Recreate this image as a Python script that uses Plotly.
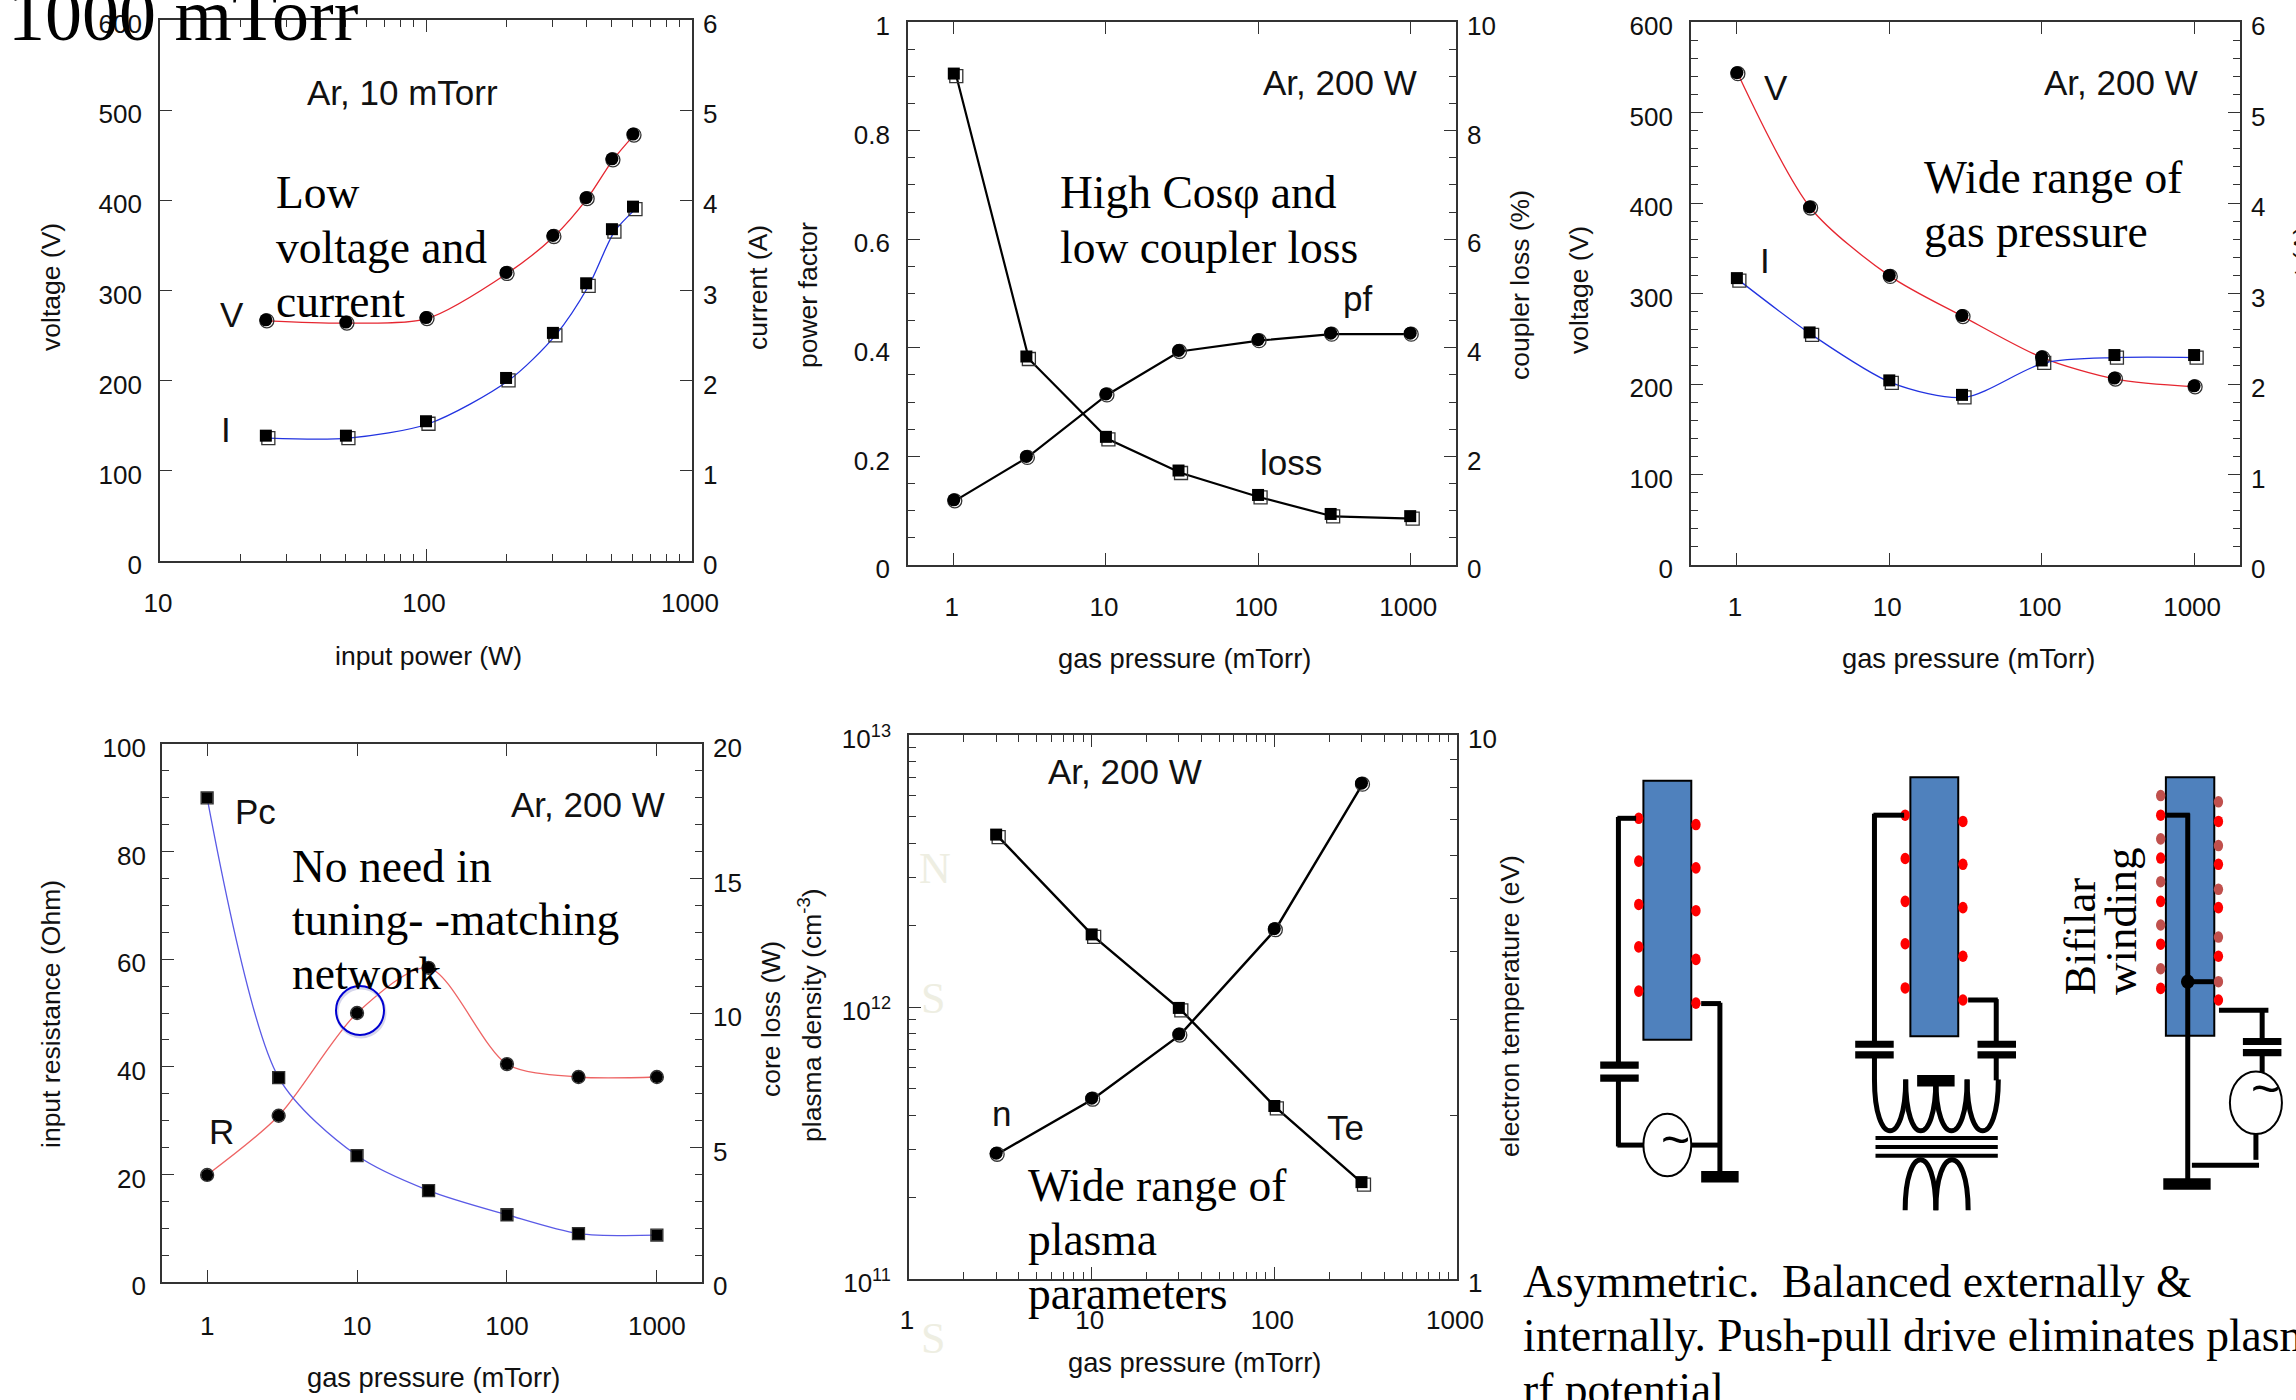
import plotly.graph_objects as go
import math

W, H = 2296, 1400

# ---------- data ----------
power_w = [25, 50, 100, 200, 300, 400, 500, 600]
p1_voltage = [267.5, 265, 270, 320, 361, 403, 446, 473.5]
p1_current = [1.39, 1.39, 1.55, 2.03, 2.53, 3.08, 3.68, 3.93]

pressure = [1, 3, 10, 30, 100, 300, 1000]
p2_pf = [0.12, 0.20, 0.315, 0.395, 0.415, 0.427, 0.427]
p2_loss = [9.05, 3.84, 2.36, 1.74, 1.29, 0.94, 0.90]

p3_voltage = [544, 395.6, 320, 275.6, 230, 206.6, 198]
p3_current = [3.17, 2.57, 2.04, 1.88, 2.26, 2.32, 2.32]

p4_r = [19.9, 30.9, 50, 58.4, 40.5, 38.1, 38.1]
p4_pc = [18.0, 7.6, 4.7, 3.4, 2.5, 1.8, 1.74]

pressure5 = [3, 10, 30, 100, 300]
p5_n = [2.9e11, 4.62e11, 7.95e11, 1.94e12, 6.65e12]
p5_te = [6.56, 4.3, 3.15, 2.08, 1.507]

SANS = "Liberation Sans"
SERIF = "Liberation Serif"
TICK = 26
AXT = 26.5
GAS = 27.3
LAB = 35
BIG = 45.5


def X(px):
    return px / W


def Y(py):
    return 1 - py / H


fig = go.Figure()
annotations = []
shapes = []


def text(x, y, s, size=AXT, font=SANS, anchor="center", angle=0, color="#111111", baseline=False):
    yy = y - 0.3 * size if baseline else y
    annotations.append(dict(x=X(x), y=Y(yy), xref="paper", yref="paper", text=s, showarrow=False,
                            xanchor=anchor, yanchor="middle", textangle=angle,
                            font=dict(family=font, size=size, color=color)))


def serif(x, y, s, size=BIG):
    text(x, y, s, size=size, font=SERIF, anchor="left", baseline=True, color="#000000")


panels = {
    1: dict(box=(160, 692, 20, 561), xr=(1, 3)),
    2: dict(box=(908, 1456, 22, 565), xr=(math.log10(0.5), math.log10(2000))),
    3: dict(box=(1691, 2240, 22, 565), xr=(math.log10(0.5), math.log10(2000))),
    4: dict(box=(162, 702, 744, 1282), xr=(math.log10(0.5), math.log10(2000))),
    5: dict(box=(909, 1457, 735, 1279), xr=(0, 3)),
}


def xshift(panel, xs, px):
    b = panels[panel]["box"]
    r = panels[panel]["xr"]
    k = (r[1] - r[0]) / (b[1] - b[0])
    return [v * 10 ** (px * k) for v in xs]


def yshift(panel, ys, px, yr, log=False):
    b = panels[panel]["box"]
    k = (yr[1] - yr[0]) / (b[3] - b[2])
    if log:
        return [v * 10 ** (-px * k) for v in ys]
    return [v - px * k for v in ys]


def series(panel, xs, ys, right, yr, color, lw, symbol, log=False, off=(2.5, 2.5), ms=12, smooth=True):
    ya = f"y{panel + 5}" if right else f"y{panel}"
    xa = f"x{panel}"
    lx = xshift(panel, xs, off[0])
    ly = yshift(panel, ys, off[1], yr, log)
    fig.add_trace(go.Scatter(x=lx, y=ly, xaxis=xa, yaxis=ya, mode="lines",
                             line=dict(color=color, width=lw, shape="spline" if smooth else "linear", smoothing=0.8),
                             showlegend=False, hoverinfo="skip"))
    fig.add_trace(go.Scatter(x=lx, y=ly, xaxis=xa, yaxis=ya, mode="markers",
                             marker=dict(symbol=symbol + "-open", size=ms + 1, color="#333333", line=dict(width=1.3, color="#333333")),
                             showlegend=False, hoverinfo="skip"))
    fig.add_trace(go.Scatter(x=xs, y=ys, xaxis=xa, yaxis=ya, mode="markers",
                             marker=dict(symbol=symbol, size=ms, color="#000000"),
                             showlegend=False, hoverinfo="skip"))


RED, BLUE = "#E62630", "#2233E0"
LRED, LBLUE = "#EE6464", "#5A5AE6"

series(1, power_w, p1_voltage, False, (0, 600), RED, 1.3, "circle", off=(1, 1), ms=13)
series(1, power_w, p1_current, True, (0, 6), BLUE, 1.3, "square")
series(2, pressure, p2_pf, False, (0, 1), "#000000", 2.2, "circle", off=(1, 1), ms=13, smooth=False)
series(2, pressure, p2_loss, True, (0, 10), "#000000", 2.2, "square", smooth=False)
series(3, pressure, p3_voltage, False, (0, 600), RED, 1.3, "circle", off=(1, 1), ms=13)
series(3, pressure, p3_current, True, (0, 6), BLUE, 1.3, "square")
series(4, pressure, p4_r, False, (0, 100), LRED, 1.3, "circle", off=(0, 0), ms=12)
series(4, pressure, p4_pc, True, (0, 20), LBLUE, 1.3, "square", off=(0, 0), ms=11)
series(5, pressure5, p5_n, False, (11, 13), "#000000", 2.4, "circle", log=True, off=(1, 1), ms=13, smooth=False)
series(5, pressure5, p5_te, True, (0, 1), "#000000", 2.4, "square", log=True, smooth=False)

AX = dict(showgrid=False, zeroline=False, showline=True, linecolor="#333333", linewidth=1.6,
          ticks="inside", tickcolor="#333333", tickwidth=1.4, ticklen=12,
          tickfont=dict(family=SANS, size=TICK, color="#111111"))

layout = {}


def build(panel, xvals, xminor, ylv, yll, ymin, yrv, yrl, yrmin, yr, yr2, ylog=False, standoff_x=18, standoff_y=11, shift_x=-2):
    b = panels[panel]["box"]
    xd = [X(b[0]), X(b[1])]
    yd = [Y(b[3]), Y(b[2])]
    xaxis = dict(AX, type="log", range=list(panels[panel]["xr"]), domain=xd, anchor=f"y{panel}",
                 tickmode="array", tickvals=xvals, ticktext=[str(v) for v in xvals],
                 mirror="ticks", ticklabelstandoff=standoff_x, ticklabelshift=shift_x)
    if xminor:
        xaxis["minor"] = dict(ticks="inside", tickmode="array", tickvals=xminor, ticklen=7, tickcolor="#333333", tickwidth=1.2)
    left = dict(AX, domain=yd, anchor=f"x{panel}", range=list(yr), tickmode="array", tickvals=ylv, ticktext=yll,
                side="left", ticklabelstandoff=standoff_y, mirror=False, ticklabelshift=4)
    right = dict(AX, overlaying=f"y{panel}" if panel > 1 else "y", anchor=f"x{panel}", side="right", range=list(yr2),
                 tickmode="array", tickvals=yrv, ticktext=yrl, ticklabelstandoff=4, ticklabelshift=4)
    if ylog:
        left["type"] = "log"
        right["type"] = "log"
    if ymin:
        left["minor"] = dict(ticks="inside", tickmode="array", tickvals=ymin, ticklen=7, tickcolor="#333333", tickwidth=1.2)
    if yrmin:
        right["minor"] = dict(ticks="inside", tickmode="array", tickvals=yrmin, ticklen=7, tickcolor="#333333", tickwidth=1.2)
    layout[f"xaxis{panel}" if panel > 1 else "xaxis"] = xaxis
    layout[f"yaxis{panel}" if panel > 1 else "yaxis"] = left
    layout[f"yaxis{panel + 5}"] = right


x_minor_10_1000 = [k * 10 ** e for e in (1, 2) for k in range(2, 10)]
x_minor_1_1000 = [k * 10 ** e for e in (0, 1, 2) for k in range(2, 10)]
deck = [1, 10, 100, 1000]

build(1, [10, 100, 1000], x_minor_10_1000,
      [0, 100, 200, 300, 400, 500, 600], ["0", "100", "200", "300", "400", "500", "600"], None,
      [0, 1, 2, 3, 4, 5, 6], ["0", "1", "2", "3", "4", "5", "6"], None, (0, 600), (0, 6))
build(2, deck, None,
      [0, .2, .4, .6, .8, 1], ["0", "0.2", "0.4", "0.6", "0.8", "1"], [i * .05 for i in range(21) if i % 4],
      [0, 2, 4, 6, 8, 10], ["0", "2", "4", "6", "8", "10"], [i * .5 for i in range(21) if i % 4], (0, 1), (0, 10))
build(3, deck, None,
      [0, 100, 200, 300, 400, 500, 600], ["0", "100", "200", "300", "400", "500", "600"], [i * 20 for i in range(31) if i % 5],
      [0, 1, 2, 3, 4, 5, 6], ["0", "1", "2", "3", "4", "5", "6"], [i * .2 for i in range(31) if i % 5], (0, 600), (0, 6))
build(4, deck, None,
      [0, 20, 40, 60, 80, 100], ["0", "20", "40", "60", "80", "100"], [i * 5 for i in range(21) if i % 4],
      [0, 5, 10, 15, 20], ["0", "5", "10", "15", "20"], [i for i in range(21) if i % 5], (0, 100), (0, 20),
      standoff_x=20, standoff_y=9, shift_x=0)
build(5, deck, x_minor_1_1000,
      [1e11, 1e12, 1e13], ["10<sup>11</sup>", "10<sup>12</sup>", "10<sup>13</sup>"],
      [k * 10 ** e for e in (11, 12) for k in range(2, 10)],
      [1, 10], ["1", "10"], list(range(2, 10)), (11, 13), (0, 1), ylog=True, standoff_x=17)

# ---------- axis titles and labels ----------
text(51, 287, "voltage (V)", angle=-90)
text(758, 288, "current (A)", angle=-90)
text(428, 656, "input power (W)")
text(808, 295, "power factor", angle=-90)
text(1520, 285, "coupler loss (%)", angle=-90)
text(1184, 658, "gas pressure (mTorr)", size=GAS)
text(1579, 290, "voltage (V)", angle=-90)
text(2303, 288, "current (A)", angle=-90)
text(1968, 658, "gas pressure (mTorr)", size=GAS)
text(51, 1014, "input resistance (Ohm)", angle=-90)
text(433, 1377, "gas pressure (mTorr)", size=GAS)
text(771, 1019, "core loss (W)", angle=-90)
text(810, 1015, "plasma density (cm<sup>-3</sup>)", angle=-90)
text(1510, 1006, "electron temperature (eV)", angle=-90)
text(1194, 1362, "gas pressure (mTorr)", size=GAS)

text(402, 92, "Ar, 10 mTorr", size=LAB)
text(1340, 83, "Ar, 200 W", size=LAB)
text(2121, 83, "Ar, 200 W", size=LAB)
text(588, 805, "Ar, 200 W", size=LAB)
text(1125, 771, "Ar, 200 W", size=LAB)
for lx, ly, s in [(232, 315, "V"), (226, 429, "I"), (1357, 299, "pf"), (1291, 462, "loss"),
                  (1776, 87, "V"), (1765, 260, "I"), (255, 811, "Pc"), (221, 1131, "R"),
                  (1001, 1113, "n"), (1345, 1127, "Te")]:
    text(lx, ly, s, size=LAB)

# ---------- overlaid slide text ----------
serif(6, 37, "1000 mTorr", size=74)
serif(274, 206, "Low")
serif(274, 261, "voltage and")
serif(274, 315, "current")
serif(1058, 206, "High Cosφ and")
serif(1058, 261, "low coupler loss")
serif(1922, 191, "Wide range of")
serif(1922, 245, "gas pressure")
serif(290, 880, "No need in")
serif(290, 933, "tuning- -matching")
serif(290, 987, "network")
serif(1026, 1199, "Wide range of")
serif(1026, 1253, "plasma")
serif(1026, 1307, "parameters")
serif(1521, 1295, "Asymmetric.\u00a0 Balanced externally &amp;")
serif(1521, 1349, "internally. Push-pull drive eliminates plasma")
serif(1521, 1403, "rf potential")
for lx, ly, s in [(917, 882, "N"), (919, 1012, "S"), (919, 1352, "S")]:
    text(lx, ly, s, size=44, font=SERIF, anchor="left", baseline=True, color="#EEEEE2")

# highlighted point
shapes.append(dict(type="circle", xref="paper", yref="paper", x0=X(337), x1=X(385), y0=Y(1037), y1=Y(988),
                   line=dict(color="#BBBBDD", width=3), opacity=0.6))
shapes.append(dict(type="circle", xref="paper", yref="paper", x0=X(336), x1=X(384), y0=Y(1035), y1=Y(986),
                   line=dict(color="#0000D0", width=2)))

# ---------- circuit sketches (coordinates on a 1568-square view of the crop 1480..2296 x 700..1400) ----------
def cx(z):
    return 1480 + z / 1.9216


def cy(z):
    return 700 + z / 2.24


def line(x0, y0, x1, y1, w=5, color="#000000"):
    shapes.append(dict(type="line", xref="paper", yref="paper", x0=X(cx(x0)), y0=Y(cy(y0)), x1=X(cx(x1)), y1=Y(cy(y1)),
                       line=dict(color=color, width=w)))


def rect(x0, y0, x1, y1, fill="#000000", lc="#000000", lw=0):
    shapes.append(dict(type="rect", xref="paper", yref="paper", x0=X(cx(x0)), y0=Y(cy(y0)), x1=X(cx(x1)), y1=Y(cy(y1)),
                       fillcolor=fill, line=dict(color=lc, width=lw)))


def oval(xc, yc, rx, ry, fill="#000000", lc=None, lw=0):
    shapes.append(dict(type="circle", xref="paper", yref="paper",
                       x0=X(cx(xc - rx)), x1=X(cx(xc + rx)), y0=Y(cy(yc + ry)), y1=Y(cy(yc - ry)),
                       fillcolor=fill, line=dict(color=lc or fill, width=lw)))


def coil(x0, x1, top, bottom, w=5):
    c = top + (bottom - top) / 0.75
    p = f"M{X(cx(x0))},{Y(cy(top))} C{X(cx(x0))},{Y(cy(c))} {X(cx(x1))},{Y(cy(c))} {X(cx(x1))},{Y(cy(top))}"
    shapes.append(dict(type="path", xref="paper", yref="paper", path=p, line=dict(color="#000000", width=w)))


def cap(xc, y0, y1, half=37):
    rect(xc - half, y0 - 8, xc + half, y0 + 8)
    rect(xc - half, y1 - 8, xc + half, y1 + 8)


def dots(xc, ys, color="#FF0000"):
    for yy in ys:
        oval(xc, yy, 9, 13, fill=color)


CORE = "#4F81BD"
MUTED = "#C0504D"

# asymmetric
rect(314, 181, 406, 761, fill=CORE, lw=2)
dots(305, [265, 361, 458, 553, 652])
dots(415, [279, 376, 472, 581, 679])
line(264, 265, 300, 265)
line(266, 262, 266, 812)
cap(268, 818, 847)
line(266, 850, 266, 1000)
line(264, 997, 316, 997)
oval(360, 997, 46, 70, fill="#FFFFFF", lc="#000000", lw=2)
line(406, 997, 462, 997)
line(461, 678, 461, 1058)
line(425, 680, 463, 680)
rect(425, 1055, 497, 1081)
text(cx(375), cy(985), "~", size=50, font=SANS, color="#000000")

# balanced
rect(827, 173, 919, 753, fill=CORE, lw=2)
dots(817, [258, 355, 451, 546, 645])
dots(928, [272, 368, 465, 574, 672])
line(756, 258, 815, 258)
line(758, 255, 758, 765)
line(938, 672, 995, 672)
line(992, 670, 992, 765)
cap(758, 771, 795)
cap(993, 771, 795)
line(758, 800, 758, 852)
line(992, 800, 992, 852)
coil(758, 818, 850, 965)
coil(818, 876, 850, 965)
coil(876, 936, 850, 965)
coil(936, 996, 850, 965)
rect(840, 840, 912, 866)
line(876, 860, 876, 905)
for yy in (981, 1001, 1021):
    line(760, yy, 995, yy, w=4)
coil(817, 876, 1143, 1030)
coil(876, 938, 1143, 1030)

# bifilar
rect(1318, 173, 1411, 752, fill=CORE, lw=2)
dots(1308, [214, 311, 407, 504, 602], color=MUTED)
dots(1308, [258, 354, 451, 547, 646])
dots(1419, [228, 326, 424, 531, 631], color=MUTED)
dots(1419, [272, 368, 465, 574, 672])
line(1318, 258, 1364, 258)
line(1360, 254, 1360, 1075)
oval(1360, 631, 13, 16)
line(1360, 631, 1410, 631)
rect(1313, 1071, 1404, 1097)
line(1368, 1042, 1497, 1042)
line(1491, 970, 1491, 1030)
oval(1491, 902, 50, 70, fill="#FFFFFF", lc="#000000", lw=2)
line(1503, 693, 1503, 760)
line(1420, 695, 1515, 695)
cap(1503, 765, 790)
line(1503, 795, 1503, 835)
text(cx(1510), cy(872), "~", size=50, font=SANS, color="#000000")
text(cx(1152), cy(530), "Bifilar", size=45, font=SERIF, angle=-90, color="#000000")
text(cx(1232), cy(495), "winding", size=45, font=SERIF, angle=-90, color="#000000")

fig.update_layout(width=W, height=H, margin=dict(l=0, r=0, t=0, b=0, autoexpand=False), autosize=False,
                  paper_bgcolor="#FFFFFF", plot_bgcolor="rgba(0,0,0,0)", showlegend=False,
                  annotations=annotations, shapes=shapes, **layout)

fig.write_html("out.html", config=dict(displayModeBar=False),
               post_script="document.body.style.margin='0';document.documentElement.style.overflow='hidden';")
